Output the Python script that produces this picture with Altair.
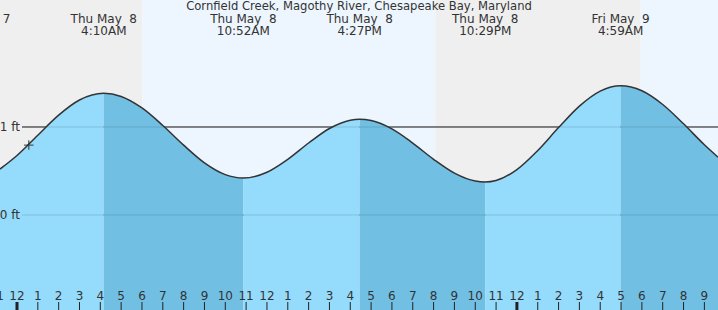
import altair as alt
import pandas as pd

title_text = "Cornfield Creek, Magothy River, Chesapeake Bay, Maryland"

# Tide curve: hours since midnight Thu May 8, height in ft
curve_hours = [-0.816, 0, 1, 2, 3, 4.167, 5, 6, 7, 8, 9, 10, 10.867,
               12, 13, 14, 15, 16, 16.45, 17, 18, 19, 20, 21, 22, 22.48,
               23, 24, 25, 26, 27, 28, 28.98, 30, 31, 32, 33, 33.654]
curve_ft = [0.522, 0.676, 0.907, 1.135, 1.307, 1.383, 1.347, 1.216, 1.017, 0.794, 0.593, 0.459, 0.42,
            0.486, 0.633, 0.818, 0.983, 1.077, 1.088, 1.073, 0.978, 0.817, 0.633, 0.476, 0.386, 0.375,
            0.392, 0.516, 0.733, 0.993, 1.237, 1.408, 1.469, 1.412, 1.256, 1.036, 0.798, 0.657]

# high/low tide events
event_hours = [-2.0, 4.167, 10.867, 16.45, 22.48, 28.98]
event_day = ["Wed May\u00a0\u00a07", "Thu May\u00a0\u00a08", "Thu May\u00a0\u00a08",
             "Thu May\u00a0\u00a08", "Thu May\u00a0\u00a08", "Fri May\u00a0\u00a09"]
event_time = ["", "4:10AM", "10:52AM", "4:27PM", "10:29PM", "4:59AM"]

# falling-tide (dark) intervals
falling_start = [4.167, 16.45, 28.98]
falling_end = [10.867, 22.48, 33.654]

# day/night bands
band_start = [-0.816, 6.015, 20.08, 29.94]
band_end = [6.015, 20.08, 29.94, 33.654]
band_color = ["#efefef", "#edf6fe", "#efefef", "#edf6fe"]

# hour ticks
tick_hours = list(range(-1, 34))
tick_labels = ["11", "12", "1", "2", "3", "4", "5", "6", "7", "8", "9", "10", "11",
               "12", "1", "2", "3", "4", "5", "6", "7", "8", "9", "10", "11",
               "12", "1", "2", "3", "4", "5", "6", "7", "8", "9"]
midnight_hours = [0, 24]

ft_levels = [1, 0]
ft_labels = ["1 ft", "0 ft"]

now_hour = [0.566]
now_ft = [0.795]

LIGHT = "#95dbfc"
DARK = "#71c0e4"
INK = "#333333"

X0, X1 = -0.816, 33.654
Y0, Y1 = -1.0795, 2.443
xs = alt.Scale(domain=[X0, X1], nice=False, zero=False)
ys = alt.Scale(domain=[Y0, Y1], nice=False, zero=False)

curve = pd.DataFrame({"h": curve_hours, "ft": curve_ft})

# segmented area (light rising, dark falling)
bounds = sorted(set([curve_hours[0]] + falling_start + falling_end))
rows = []
for i in range(len(bounds) - 1):
    a, b = bounds[i], bounds[i + 1]
    fill = DARK if any(abs(a - s) < 1e-6 for s in falling_start) else LIGHT
    for h, f in zip(curve_hours, curve_ft):
        if a - 1e-6 <= h <= b + 1e-6:
            rows.append({"h": h, "ft": f, "seg": i, "fill": fill})
segs = pd.DataFrame(rows)

bands = pd.DataFrame({"s": band_start, "e": band_end, "c": band_color})
events = pd.DataFrame({"h": event_hours, "day": event_day, "time": event_time})
ticks = pd.DataFrame({"h": tick_hours, "lab": tick_labels})
mids = pd.DataFrame({"h": midnight_hours})
levels = pd.DataFrame({"ft": ft_levels, "lab": ft_labels})
now = pd.DataFrame({"h": now_hour, "ft": now_ft})


def X(f="h"):
    return alt.X(f"{f}:Q", scale=xs, axis=None)


def Y(f="ft"):
    return alt.Y(f"{f}:Q", scale=ys, axis=None, stack=None)


bg = alt.Chart(bands).mark_rect().encode(
    x=X("s"), x2="e", y=alt.value(0), y2=alt.value(310),
    color=alt.Color("c:N", scale=None))

rules_under = alt.Chart(levels).mark_rule(color="#222222", strokeWidth=1).encode(
    x=alt.value(22), x2=alt.value(718), y=Y())

area = alt.Chart(segs).mark_area(interpolate="monotone").encode(
    x=X(), y=Y(), y2=alt.value(310),
    color=alt.Color("fill:N", scale=None), detail="seg:N")

rules_over = alt.Chart(levels).mark_rule(color="#000000", strokeWidth=1, opacity=0.13).encode(
    x=alt.value(22), x2=alt.value(718), y=Y())

line = alt.Chart(curve).mark_line(interpolate="monotone", color=INK, strokeWidth=1.5).encode(
    x=X(), y=Y())

marker = alt.Chart(now).mark_point(shape="M-1,0L1,0M0,-1L0,1", size=90, color="#222222",
                                   strokeWidth=1.3, filled=False).encode(x=X(), y=Y())

txt = dict(font="DejaVu Sans", fontSize=12, color=INK)

title = alt.Chart(pd.DataFrame({"t": [title_text]})).mark_text(
    align="center", baseline="middle", font="DejaVu Sans", fontSize=11.6, color=INK).encode(
    x=alt.value(359), y=alt.value(7), text="t:N")

day_text = alt.Chart(events).mark_text(align="center", baseline="middle", **txt).encode(
    x=X(), y=alt.value(19), text="day:N")
time_text = alt.Chart(events).mark_text(align="center", baseline="middle", **txt).encode(
    x=X(), y=alt.value(31), text="time:N")

ft_text = alt.Chart(levels).mark_text(align="right", baseline="middle", **txt).encode(
    x=alt.value(20), y=Y(), text="lab:N")

tick_marks = alt.Chart(ticks).mark_rule(color="#222222", strokeWidth=1).encode(
    x=X(), y=alt.value(302), y2=alt.value(310))
mid_marks = alt.Chart(mids).mark_rule(color="#222222", strokeWidth=3).encode(
    x=X(), y=alt.value(302), y2=alt.value(310))
tick_text = alt.Chart(ticks).mark_text(align="center", baseline="middle", **txt).encode(
    x=X(), y=alt.value(296), text="lab:N")

chart = alt.layer(
    bg, rules_under, area, rules_over, line, marker,
    title, day_text, time_text, ft_text, tick_marks, mid_marks, tick_text
).properties(
    width=718, height=310, padding=0, autosize=alt.AutoSizeParams(type="none")
).configure_view(stroke=None)

chart.save("out.html", embed_options={"renderer": "svg", "actions": False})
